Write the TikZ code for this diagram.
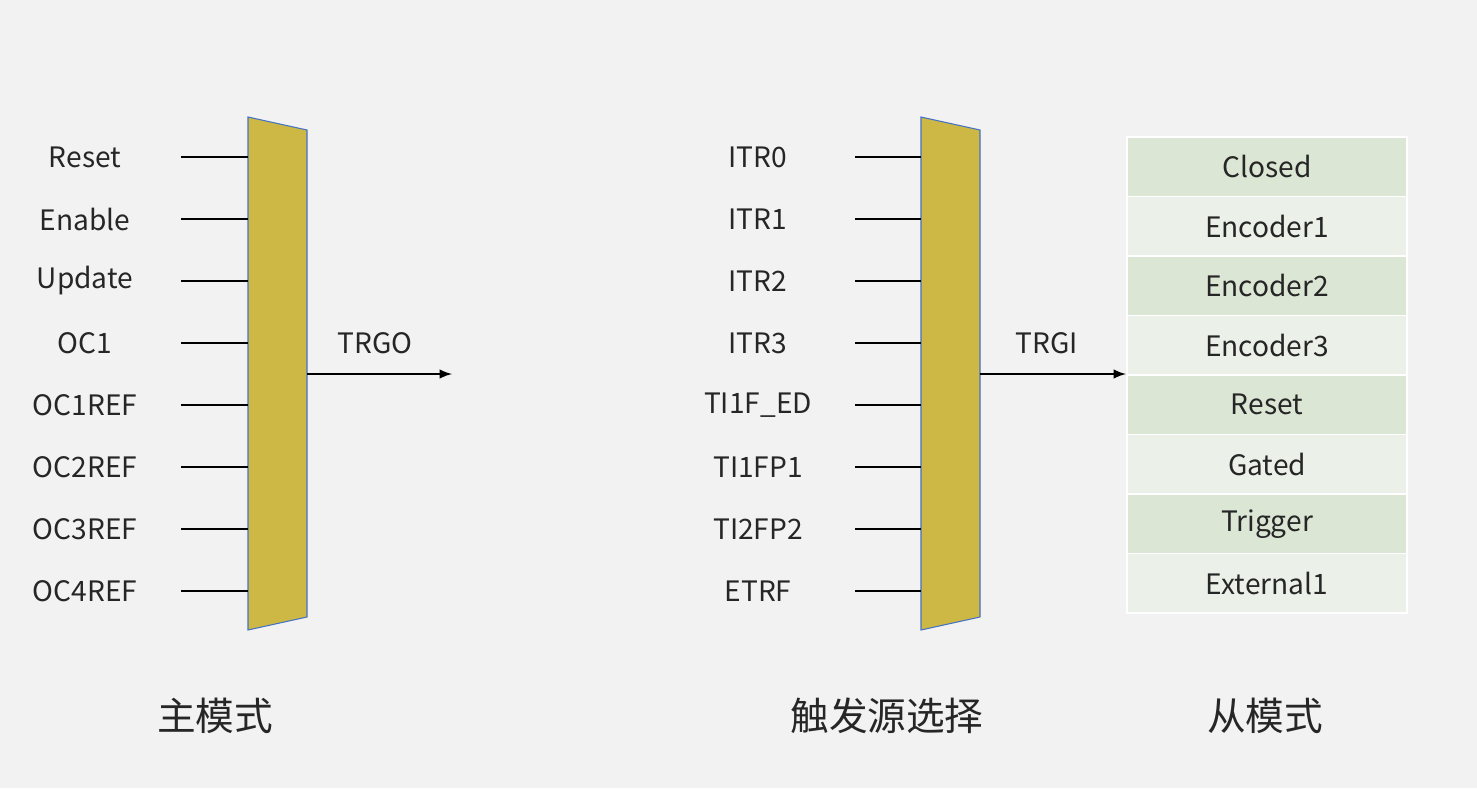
\documentclass[tikz,border=0pt]{standalone}
\usepackage{fontspec}
\newfontfamily\cjk{Noto Sans CJK SC}
\definecolor{bgc}{HTML}{F2F2F2}
\definecolor{muxc}{HTML}{CDB845}
\definecolor{edgec}{HTML}{4472C4}
\definecolor{rowa}{HTML}{DCE6D5}
\definecolor{rowb}{HTML}{EBF1E8}
\begin{document}
\begin{tikzpicture}
    [
    x=0.02cm,y=-0.02cm,
    every node/.style={font=\cjk\fontsize{16}{18}\selectfont,text=black!85},
    mux/.style={fill=muxc,draw=edgec,line width=0.6pt},
    pin/.style={line width=1.4pt},
    outarrow/.style={line width=1.4pt,-latex},
    cell/.style={draw=white,line width=1pt,minimum width=5.6cm,minimum height=1.19cm,inner sep=0pt},
    caption/.style={font=\cjk\fontsize{22}{26}\selectfont}
    ]
    \fill[bgc] (0,0) rectangle (1477,788);
    % master mode
    \draw[mux] (248,117) -- (307,130) -- (307,617) -- (248,630) -- cycle;
    \foreach \t [count=\i] in {Reset,Enable,Update,OC1,OC1REF,OC2REF,OC3REF,OC4REF} {
      \coordinate (m\i) at (248,{157+62*(\i-1)});
      \node (ml\i) at (85,{157+62*(\i-1)}) {\t};
      \draw[pin] (181,{157+62*(\i-1)}) -- (m\i);
    }
    \coordinate (mo) at (307,374);
    \coordinate (me) at (452,374);
    \draw[outarrow] (mo) -- (me);
    \node (trgo) at (375,343) {TRGO};
    \node[caption] (cap1) at (215,716) {主模式};
    % trigger select
    \draw[mux] (921,117) -- (980,130) -- (980,617) -- (921,630) -- cycle;
    \foreach \t [count=\i] in {ITR0,ITR1,ITR2,ITR3,TI1F\_ED,TI1FP1,TI2FP2,ETRF} {
      \coordinate (s\i) at (921,{157+62*(\i-1)});
      \node (sl\i) at (758,{157+62*(\i-1)}) {\t};
      \draw[pin] (855,{157+62*(\i-1)}) -- (s\i);
    }
    \coordinate (so) at (980,374);
    \node[caption] (cap2) at (887,716) {触发源选择};
    % slave mode
    \foreach \t [count=\i] in {Closed,Encoder1,Encoder2,Encoder3,Reset,Gated,Trigger,External1} {
      \ifodd\i \def\shade{rowa}\else \def\shade{rowb}\fi
      \node[cell,fill=\shade] (c\i) at (1267,{166.7+59.5*(\i-1)}) {\t};
    }
    \coordinate (si) at (1126,374);
    \draw[outarrow] (so) -- (si);
    \node (trgi) at (1047,343) {TRGI};
    \node[caption] (cap3) at (1265,716) {从模式};
\end{tikzpicture}
\end{document}
